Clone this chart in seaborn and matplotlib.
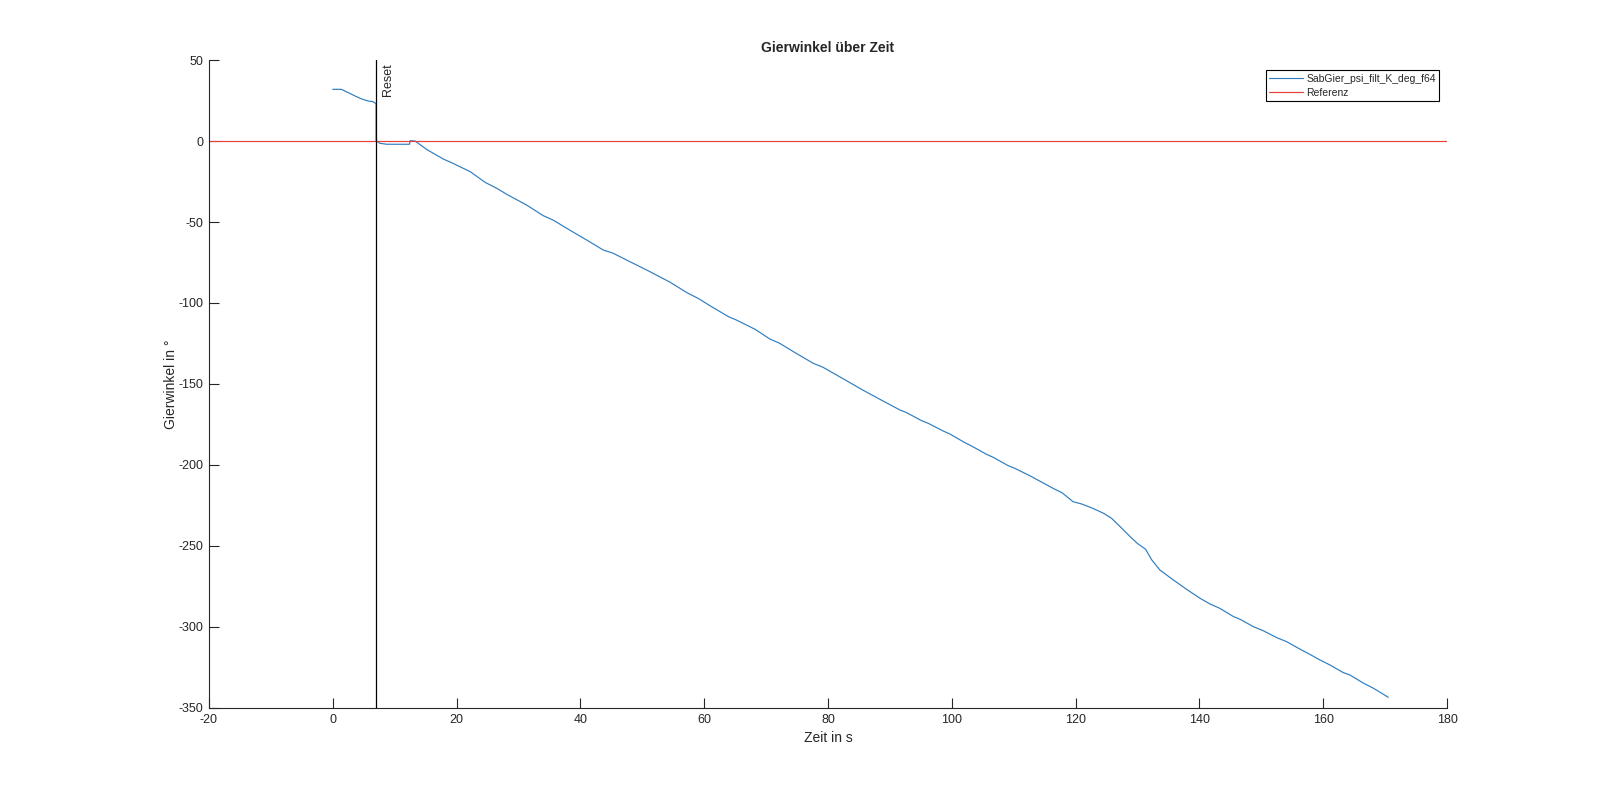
import numpy as np
import pandas as pd
import matplotlib
matplotlib.use('Agg')
import matplotlib.pyplot as plt
import seaborn as sns

# Zeitachse in s
zeit = [0, 1.4, 3.6, 4.7, 5.7, 6.5, 6.9, 7.0, 7.0, 7.6, 8.7, 12.4, 12.5, 13.3,
        15.2, 17.9, 19.2, 21.1, 22.2, 24.6, 26.5, 28.1, 31.3, 34.0, 35.6, 37.8,
        41.0, 43.7, 45.3, 48.0, 51.0, 54.5, 57.2, 59.0, 60.9, 63.9, 65.2, 68.2,
        70.6, 72.2, 74.7, 77.6, 79.2, 82.6, 85.5, 88.4, 91.6, 92.7, 95.1, 96.2,
        98.6, 99.7, 102.1, 103.2, 105.6, 106.7, 109.1, 110.2, 112.9, 113.7,
        116.4, 117.8, 119.6, 121.0, 122.8, 124.5, 125.8, 127.2, 128.8, 130.0,
        131.3, 132.3, 133.6, 135.8, 137.9, 140.1, 141.7, 143.3, 145.5, 146.6,
        148.7, 150.3, 152.5, 154.1, 156.3, 157.3, 159.5, 161.1, 163.2, 164.3,
        166.5, 168.1, 170.5]

# Gierwinkel in Grad
gier = [31.9, 31.9, 27.8, 25.9, 24.7, 24.3, 23.3, 22.8, 0.2, -1.4, -2.0, -2.0, 0.2, 0.0,
        -5.3, -11.2, -13.4, -16.9, -18.9, -25.5, -29.2, -32.9, -39.5, -46.1, -48.8, -53.9,
        -61.1, -67.3, -69.3, -74.5, -80.2, -87.2, -93.6, -97.1, -101.6, -108.4, -110.5, -116.2,
        -122.2, -124.9, -130.7, -137.2, -139.7, -147.1, -153.5, -159.5, -166.0, -167.7, -172.6, -174.3,
        -179.0, -180.9, -186.2, -188.3, -193.4, -195.3, -200.4, -202.1, -207.2, -208.9,
        -214.5, -217.1, -222.7, -224.1, -226.8, -229.8, -232.9, -238.1, -244.2, -248.5,
        -252.0, -258.6, -264.8, -271.0, -276.7, -282.3, -285.8, -288.5, -293.6, -295.3,
        -299.8, -302.3, -306.6, -309.1, -313.8, -315.8, -320.4, -323.5, -328.1, -329.6,
        -334.7, -337.8, -343.4]

ref_zeit = [-20, 180]
ref_wert = [0, 0]
reset_zeit = 7.0

x_ticks = list(range(-20, 181, 20))
y_ticks = list(range(-350, 51, 50))

df = pd.DataFrame({'Zeit': zeit, 'Gier': gier})
df_ref = pd.DataFrame({'Zeit': ref_zeit, 'Wert': ref_wert})

sns.set_style('ticks')
plt.rcParams['font.family'] = ['Liberation Sans', 'DejaVu Sans']
plt.rcParams['axes.unicode_minus'] = False
plt.rcParams['xtick.direction'] = 'in'
plt.rcParams['ytick.direction'] = 'in'

fig = plt.figure(figsize=(16, 7.96), dpi=100)
ax = fig.add_axes([0.1306, 0.1106, 0.7738, 0.814])

sns.lineplot(data=df, x='Zeit', y='Gier', ax=ax, color='#2F7DBF', linewidth=0.85,
             estimator=None, sort=False, label='SabGier_psi_filt_K_deg_f64')
sns.lineplot(data=df_ref, x='Zeit', y='Wert', ax=ax, color='#E8413A', linewidth=0.85,
             estimator=None, sort=False, label='Referenz')

# Reset-Markierung
ax.axvline(reset_zeit, color='black', linewidth=0.9)
ax.text(reset_zeit + 0.9, 48, 'Reset', rotation=90, va='top', ha='left', fontsize=9)

ax.set_xlim(-20, 180)
ax.set_ylim(-350, 50)
ax.set_xticks(x_ticks)
ax.set_yticks(y_ticks)
ax.tick_params(labelsize=9, length=7, width=0.8, colors='#262626', pad=4)
ax.set_xlabel('Zeit in s', fontsize=10, labelpad=4)
ax.set_ylabel('Gierwinkel in °', fontsize=10, labelpad=0)
ax.set_title('Gierwinkel über Zeit', fontsize=10, fontweight='bold', pad=6)

sns.despine(ax=ax)
for s in ['left', 'bottom']:
    ax.spines[s].set_color('#262626')
    ax.spines[s].set_linewidth(0.8)

leg = ax.legend(loc='upper right', fontsize=7.5, frameon=True, fancybox=False,
                edgecolor='black', framealpha=1, handlelength=3.3, handletextpad=0.3,
                borderpad=0.3, labelspacing=0.4, borderaxespad=0,
                bbox_to_anchor=(0.9934, 0.984))
leg.get_frame().set_linewidth(0.8)

fig.savefig('out.png', dpi=100)
